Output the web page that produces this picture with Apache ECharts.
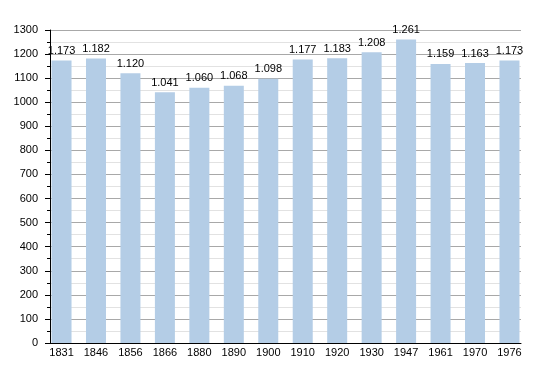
<!DOCTYPE html>
<html><head><meta charset="utf-8">
<script src="https://cdn.jsdelivr.net/npm/echarts@6/dist/echarts.min.js"></script>
<style>html,body{margin:0;padding:0;background:#fff}#c{width:550px;height:373px}</style>
</head><body><div id="c"></div>
<script>
const categories = ['1831','1846','1856','1866','1880','1890','1900','1910','1920','1930','1947','1961','1970','1976'];
const population = [1173,1182,1120,1041,1060,1068,1098,1177,1183,1208,1261,1159,1163,1173];
const yMin = 0, yMax = 1300, yStep = 100;

const chart = echarts.init(document.getElementById('c'), null, {renderer:'canvas'});
const font = 'Liberation Sans, Arial, sans-serif';
chart.setOption({
  animation: false,
  backgroundColor: '#fff',
  grid: [
    {left: 50, right: 29, top: 30, bottom: 30},
    {left: 44.3, right: 23.3, top: 30, bottom: 30}
  ],
  xAxis: [
    {gridIndex: 0, type: 'category', data: categories,
     axisLine: {show: true, lineStyle: {color: '#000', width: 1}},
     axisTick: {show: false}, axisLabel: {show: false}},
    {gridIndex: 1, type: 'category', data: categories,
     axisLine: {show: false}, axisTick: {show: false},
     axisLabel: {color: '#000', fontSize: 11, fontFamily: font, margin: 4}}
  ],
  yAxis: [
    {gridIndex: 0, type: 'value', min: yMin, max: yMax, interval: yStep,
     axisLine: {show: true, lineStyle: {color: '#000', width: 1}},
     axisTick: {show: true, length: 5, lineStyle: {color: '#000'}},
     minorTick: {show: true, splitNumber: 2, length: 3, lineStyle: {color: '#000'}},
     axisLabel: {color: '#000', fontSize: 11, fontFamily: font, margin: 12, formatter: v => String(v)},
     splitLine: {show: true, lineStyle: {color: '#a8a8a8', width: 1}},
     minorSplitLine: {show: true, lineStyle: {color: '#e2e2e2', width: 1}}},
    {gridIndex: 1, type: 'value', min: yMin, max: yMax, interval: yStep, show: false}
  ],
  series: [{
    type: 'bar', xAxisIndex: 1, yAxisIndex: 1,
    data: population, barWidth: 20, z: 5,
    itemStyle: {color: '#b4cde6'},
    label: {show: true, position: 'top', distance: 4, color: '#000', fontSize: 11, fontFamily: font,
      formatter: p => { const s = String(p.value); return s.length > 3 ? s.slice(0, s.length-3) + '.' + s.slice(-3) : s; }}
  }]
});
</script></body></html>
